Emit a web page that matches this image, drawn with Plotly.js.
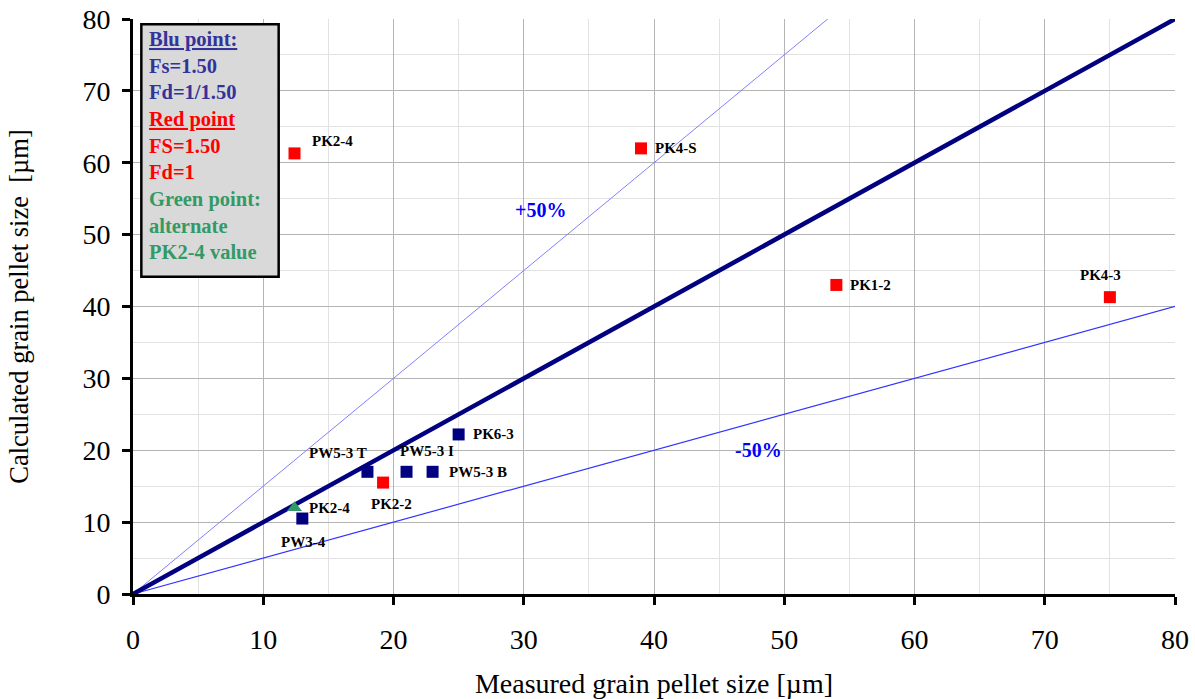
<!DOCTYPE html>
<html>
<head>
<meta charset="utf-8">
<script src="https://cdn.plot.ly/plotly-3.0.1.min.js"></script>
<style>
  html, body { margin: 0; padding: 0; background: #ffffff; }
  #chart { width: 1195px; height: 699px; }
</style>
</head>
<body>
<div id="chart"></div>
<script>
// Samples with Fs = 1.50, Fd = 1/1.50 (blue)
const blueNames = ['PW3-4', 'PW5-3 T', 'PW5-3 I', 'PW5-3 B', 'PK6-3'];
const blueX = [13, 18, 21, 23, 25];
const blueY = [10.5, 17, 17, 17, 22.2];

// Samples with FS = 1.50, Fd = 1 (red)
const redNames = ['PK2-4', 'PK4-S', 'PK1-2', 'PK4-3', 'PK2-2'];
const redX = [12.4, 39, 54, 75, 19.2];
const redY = [61.3, 62, 43, 41.3, 15.5];

// Alternate PK2-4 value (green)
const greenNames = ['PK2-4'];
const greenX = [12.4];
const greenY = [12];

// Reference lines: 1:1, +50 %, -50 %
const equalX = [0, 80];
const equalY = [0, 80];
const plusX = [0, 54];
const plusY = [0, 81];
const minusX = [0, 80.5];
const minusY = [0, 40.25];

const tickVals = [0, 10, 20, 30, 40, 50, 60, 70, 80];

const SERIF = '"Liberation Serif", "Times New Roman", serif';

// Label offsets in pixels for each point, as [xshift, yshift, xanchor]
const blueLabelPos = [[1, -23, 'center'], [2, 19, 'right'], [-9, 21, 'left'], [14, 0, 'left'], [12, 0, 'left']];
const redLabelPos = [[15, 12, 'left'], [12, 0, 'left'], [12, 0, 'left'], [-9, 22, 'center'], [8, -21, 'center']];
const greenLabelPos = [[12, 0, 'left']];

function pointLabels(names, xs, ys, pos) {
  return names.map((n, i) => ({
    x: xs[i], y: ys[i], xref: 'x', yref: 'y',
    text: '<b>' + n + '</b>', showarrow: false,
    xanchor: pos[i][2], yanchor: 'middle',
    xshift: pos[i][0], yshift: pos[i][1],
    font: { family: SERIF, size: 15, color: '#000000' }
  }));
}

const traces = [
  { x: plusX, y: plusY, mode: 'lines', line: { color: '#8080ff', width: 1 }, hoverinfo: 'skip', cliponaxis: false },
  { x: minusX, y: minusY, mode: 'lines', line: { color: '#3333ff', width: 1.2 }, hoverinfo: 'skip', cliponaxis: false },
  { x: equalX, y: equalY, mode: 'lines', line: { color: '#000080', width: 4.5 }, hoverinfo: 'skip' },
  { x: blueX, y: blueY, text: blueNames, mode: 'markers', marker: { symbol: 'square', size: 12, color: '#000080' }, cliponaxis: false },
  { x: redX, y: redY, text: redNames, mode: 'markers', marker: { symbol: 'square', size: 12, color: '#ff0000' }, cliponaxis: false },
  { x: greenX, y: greenY, text: greenNames, mode: 'markers', marker: { symbol: 'triangle-up', size: 13, color: '#339966' }, cliponaxis: false }
];

const legendText = [
  '<span style="color:#333399"><u>Blu point:</u></span>',
  '<span style="color:#333399">Fs=1.50</span>',
  '<span style="color:#333399">Fd=1/1.50</span>',
  '<span style="color:#ff0000"><u>Red point</u></span>',
  '<span style="color:#ff0000">FS=1.50</span>',
  '<span style="color:#ff0000">Fd=1</span>',
  '<span style="color:#339966">Green point:</span>',
  '<span style="color:#339966">alternate</span>',
  '<span style="color:#339966">PK2-4 value</span>'
].join('<br>');

const annotations = [
  ...pointLabels(blueNames, blueX, blueY, blueLabelPos),
  ...pointLabels(redNames, redX, redY, redLabelPos),
  ...pointLabels(greenNames, greenX, greenY, greenLabelPos),
  { x: 31.3, y: 53.4, xref: 'x', yref: 'y', text: '<b>+50%</b>', showarrow: false,
    font: { family: SERIF, size: 20, color: '#0000ff' } },
  { x: 48, y: 20, xref: 'x', yref: 'y', text: '<b>-50%</b>', showarrow: false,
    font: { family: SERIF, size: 20, color: '#0000ff' } },
  { x: 0.0134, y: 0.78, xref: 'paper', yref: 'paper', xanchor: 'left', yanchor: 'middle',
    align: 'left', text: '<b>' + legendText + '</b>', showarrow: false,
    font: { family: SERIF, size: 20.5, color: '#333399' } }
];

const axisCommon = {
  range: [0, 80],
  tickvals: tickVals,
  showgrid: true,
  gridcolor: '#b4b4b4',
  gridwidth: 1,
  minor: { dtick: 5, showgrid: true, gridcolor: '#e2e2e2', gridwidth: 1 },
  zeroline: false,
  showline: true,
  linecolor: '#000000',
  linewidth: 3,
  ticks: 'outside',
  ticklen: 8,
  tickwidth: 3,
  tickcolor: '#000000',
  tickfont: { family: SERIF, size: 28, color: '#000000' },
  fixedrange: true
};

const layout = {
  width: 1195,
  height: 699,
  margin: { l: 133, r: 20, t: 19, b: 105 },
  paper_bgcolor: '#ffffff',
  plot_bgcolor: '#ffffff',
  showlegend: false,
  hovermode: false,
  xaxis: Object.assign({}, axisCommon, {
    ticklabelstandoff: 10,
    title: { text: 'Measured grain pellet size [µm]', standoff: 20,
      font: { family: SERIF, size: 28, color: '#000000' } }
  }),
  yaxis: Object.assign({}, axisCommon, {
    ticklabelstandoff: 6,
    title: { text: 'Calculated grain pellet size  [µm]', standoff: 47,
      font: { family: SERIF, size: 26.5, color: '#000000' } }
  }),
  shapes: [
    { type: 'rect', xref: 'paper', yref: 'paper', x0: 0.008, x1: 0.1398, y0: 0.5517, y1: 0.9908,
      fillcolor: '#d9d9d9', line: { color: '#000000', width: 2.5 }, layer: 'above' }
  ],
  annotations: annotations
};

Plotly.newPlot('chart', traces, layout, { displayModeBar: false, staticPlot: true });
</script>
</body>
</html>
